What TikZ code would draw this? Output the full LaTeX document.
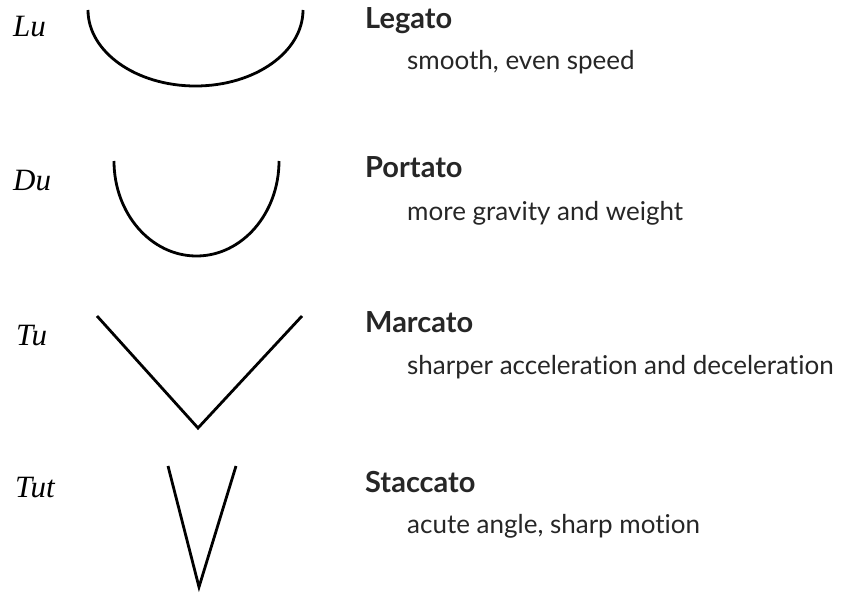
\documentclass[tikz,border=0pt]{standalone}
\usepackage{fontspec}
\setmainfont[Ligatures=NoCommon]{Lato}
\newfontfamily\syllfont{Liberation Serif}
\usetikzlibrary{positioning}

\begin{document}
\begin{tikzpicture}[
  x=1pt, y=-1pt,
  syll/.style={anchor=base west, inner sep=0pt, font=\syllfont\itshape\fontsize{31}{35}\selectfont},
  title/.style={anchor=base west, inner sep=0pt, font=\bfseries\fontsize{29}{33}\selectfont, text=black!85},
  desc/.style={anchor=base west, inner sep=0pt, font=\fontsize{26}{30}\selectfont, text=black!85},
  stroke/.style={line width=2.8pt, black}
]
\useasboundingbox (0,0) rectangle (868,594);

% legato
\node[syll] (lu) at (13,37) {Lu};
\draw[stroke] (88,10) arc[start angle=180, end angle=0, x radius=107.5, y radius=76];
\node[title] (legato) at (365,29) {Legato};
\node[desc] (legdesc) at (407,70) {smooth, even speed};

% portato
\node[syll] (du) at (13,190) {Du};
\draw[stroke] (114,161) arc[start angle=180, end angle=0, x radius=82.5, y radius=95];
\node[title] (portato) at (365,177) {Portato};
\node[desc] (pordesc) at (407,220) {more gravity and weight};

% marcato
\node[syll] (tu) at (16,345) {Tu};
\draw[stroke, line cap=butt] (97,316) -- (198,428) -- (302,316);
\node[title] (marcato) at (365,332) {Marcato};
\node[desc] (mardesc) at (407,374) {sharper acceleration and deceleration};

% staccato
\node[syll] (tut) at (15,497) {Tut};
\draw[stroke] (168,466) -- (199,587) -- (236,466);
\node[title] (staccato) at (365,492) {Staccato};
\node[desc] (stadesc) at (407,533) {acute angle, sharp motion};
\end{tikzpicture}
\end{document}
